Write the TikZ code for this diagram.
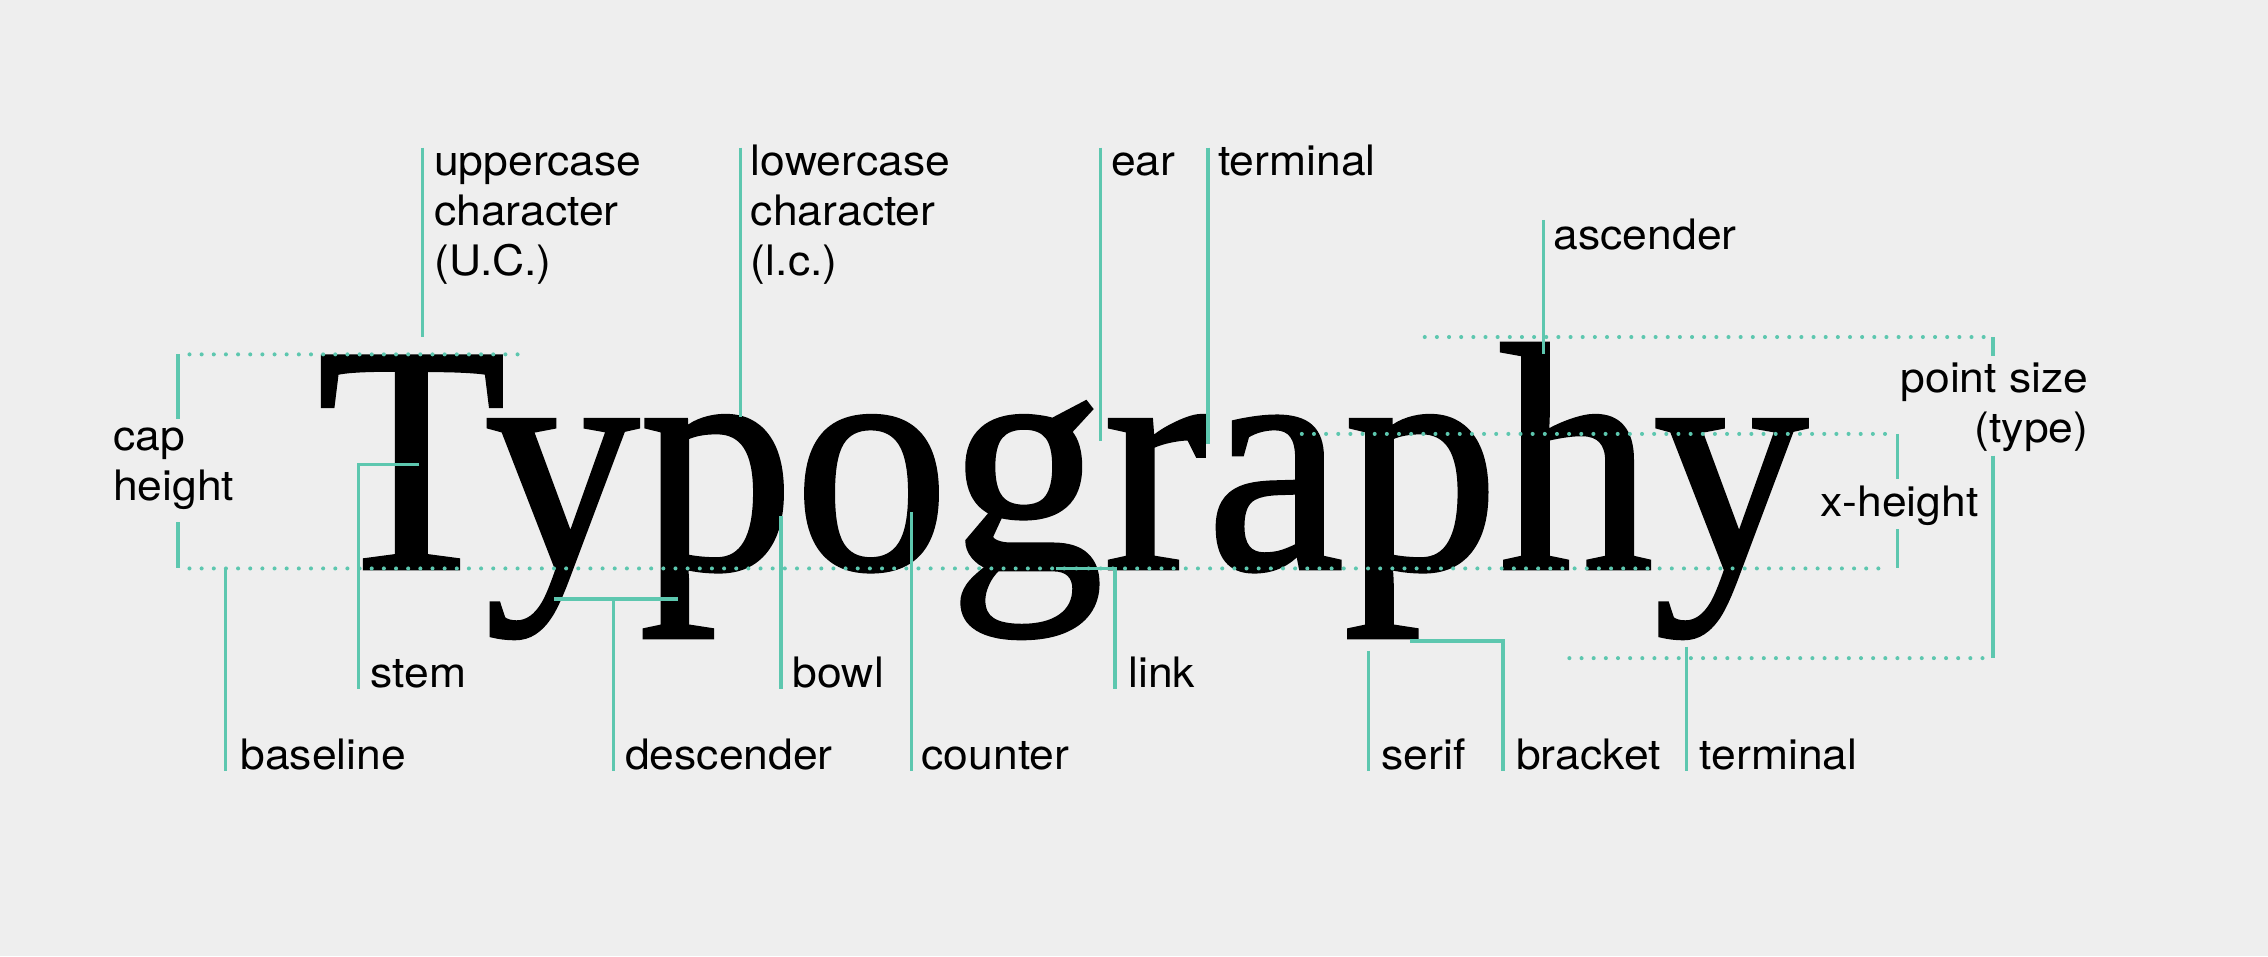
\documentclass[tikz,border=0pt]{standalone}
\usepackage{fontspec}
\newfontfamily\serifword[FakeBold=1.2]{Liberation Serif}
\newfontfamily\labelsans[FakeStretch=1.06]{TeX Gyre Heros}
\definecolor{bgc}{RGB}{238,238,238}
\definecolor{tealc}{RGB}{93,199,175}
\tikzset{
  lead/.style={draw=tealc, line width=2.4pt, line cap=butt},
  dotline/.style={draw=tealc, line width=2.8pt, line cap=round, dash pattern=on 0pt off 8.4pt},
  lbl/.style={font=\labelsans\fontsize{29}{34.5}\selectfont, inner sep=0pt, align=left, anchor=north west, text=black},
  lblr/.style={lbl, align=right, anchor=north east}
}
\begin{document}
\begin{tikzpicture}[x=1pt,y=-1pt]
\useasboundingbox (0,0) rectangle (1568,661);
\fill[bgc] (0,0) rectangle (1568,661);
% the word
\node[anchor=base west, inner sep=0pt] (word) at (219,393)
  {\scalebox{0.955}[1]{\serifword\fontsize{224}{224}\selectfont Typography}};
% labels (top = baseline - 24.15)
\node[lbl] (uc) at (300,96.85) {\strut uppercase\\character\\(U.C.)};
\node[lbl] (lc) at (519,96.85) {\strut lowercase\\character\\(l.c.)};
\node[lbl] (ear) at (768,96.85) {\strut ear};
\node[lbl] (termA) at (842,96.85) {\strut terminal};
\node[lbl] (asc) at (1074,147.85) {\strut ascender};
\node[lbl] (cap) at (78,286.85) {\strut cap\\height};
\node[lblr] (xh) at (1368,332.85) {\strut x-height};
\node[lblr] (ps) at (1444,246.85) {\strut point size\\(type)};
\node[lbl] (stem) at (256,450.85) {\strut stem};
\node[lbl] (bowl) at (548,450.85) {\strut bowl};
\node[lbl] (link) at (780,450.85) {\strut link};
\node[lbl] (base) at (166,507.85) {\strut baseline};
\node[lbl] (desc) at (432,507.85) {\strut descender};
\node[lbl] (count) at (637,507.85) {\strut counter};
\node[lbl] (serif) at (955,507.85) {\strut serif};
\node[lbl] (brack) at (1048,507.85) {\strut bracket};
\node[lbl] (termB) at (1175,507.85) {\strut terminal};
% coordinates
\coordinate (ucA) at (292,102); \coordinate (ucB) at (292,233);
\coordinate (lcA) at (512,102); \coordinate (lcB) at (512,288);
\coordinate (earA) at (761,102); \coordinate (earB) at (761,305);
\coordinate (tAA) at (835,102); \coordinate (tAB) at (835,307);
\coordinate (ascA) at (1067,152); \coordinate (ascB) at (1067,245);
\coordinate (capT) at (123,245); \coordinate (capTm) at (123,290);
\coordinate (capBm) at (123,361); \coordinate (capB) at (123,393);
\coordinate (baseA) at (156,393); \coordinate (baseB) at (156,533);
\coordinate (stemA) at (290,321); \coordinate (stemC) at (248,321); \coordinate (stemB) at (248,476);
\coordinate (descL) at (383,414); \coordinate (descR) at (469,414);
\coordinate (descA) at (424,414); \coordinate (descB) at (424,533);
\coordinate (bowlA) at (540,357); \coordinate (bowlB) at (540,476);
\coordinate (cntA) at (630,354); \coordinate (cntB) at (630,533);
\coordinate (linkA) at (730,393); \coordinate (linkC) at (771,393); \coordinate (linkB) at (771,476);
\coordinate (serA) at (946,450); \coordinate (serB) at (946,533);
\coordinate (brA) at (975,443); \coordinate (brC) at (1039,443); \coordinate (brB) at (1039,533);
\coordinate (tBA) at (1166,447); \coordinate (tBB) at (1166,533);
\coordinate (xhT) at (1312,300); \coordinate (xhTm) at (1312,331);
\coordinate (xhBm) at (1312,366); \coordinate (xhB) at (1312,393);
\coordinate (psT) at (1378,233); \coordinate (psTm) at (1378,246);
\coordinate (psBm) at (1378,315); \coordinate (psB) at (1378,455);
% dotted guide lines
\draw[dotline] (131,245) -- (362,245);
\draw[dotline] (131,393) -- (1305,393);
\draw[dotline] (900,300) -- (1305,300);
\draw[dotline] (985,233) -- (1372,233);
\draw[dotline] (1085,455) -- (1372,455);
% leaders
\draw[lead] (ucA) -- (ucB);
\draw[lead] (lcA) -- (lcB);
\draw[lead] (earA) -- (earB);
\draw[lead] (tAA) -- (tAB);
\draw[lead] (ascA) -- (ascB);
\draw[lead] (capT) -- (capTm);
\draw[lead] (capBm) -- (capB);
\draw[lead] (baseA) -- (baseB);
\draw[lead] (stemA) -- (stemC) -- (stemB);
\draw[lead] (descL) -- (descR);
\draw[lead] (descA) -- (descB);
\draw[lead] (bowlA) -- (bowlB);
\draw[lead] (cntA) -- (cntB);
\draw[lead] (linkA) -- (linkC) -- (linkB);
\draw[lead] (serA) -- (serB);
\draw[lead] (brA) -- (brC) -- (brB);
\draw[lead] (tBA) -- (tBB);
\draw[lead] (xhT) -- (xhTm);
\draw[lead] (xhBm) -- (xhB);
\draw[lead] (psT) -- (psTm);
\draw[lead] (psBm) -- (psB);
\end{tikzpicture}
\end{document}
